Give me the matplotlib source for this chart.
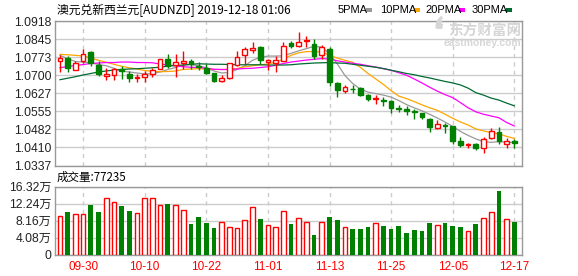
import numpy as np
import pandas as pd
import matplotlib
matplotlib.use("Agg")
import matplotlib.pyplot as plt
from matplotlib.patches import Rectangle, Arc

# daily candles, AUD/NZD, 2019-09-25 .. 2019-12-17
opens = [1.0757, 1.0771, 1.0721, 1.0757, 1.0794, 1.0741, 1.0698, 1.0702, 1.0724, 1.0705,
         1.0690, 1.0694, 1.0703, 1.0727, 1.0764, 1.0740, 1.0751, 1.0757, 1.0737, 1.0731,
         1.0707, 1.0678, 1.0688, 1.0740, 1.0780, 1.0802, 1.0812, 1.0753, 1.0751, 1.0757,
         1.0828, 1.0818, 1.0837, 1.0825, 1.0780, 1.0805, 1.0667, 1.0636, 1.0645, 1.0649,
         1.0622, 1.0606, 1.0602, 1.0595, 1.0568, 1.0564, 1.0557, 1.0548, 1.0525, 1.0487,
         1.0499, 1.0494, 1.0437, 1.0419, 1.0423, 1.0408, 1.0446, 1.0473, 1.0423, 1.0437]
highs = [1.0780, 1.0778, 1.0757, 1.0805, 1.0798, 1.0757, 1.0731, 1.0731, 1.0737, 1.0717,
         1.0703, 1.0717, 1.0731, 1.0767, 1.0787, 1.0785, 1.0798, 1.0764, 1.0753, 1.0744,
         1.0710, 1.0699, 1.0751, 1.0798, 1.0812, 1.0832, 1.0818, 1.0767, 1.0776, 1.0832,
         1.0836, 1.0873, 1.0859, 1.0845, 1.0821, 1.0812, 1.0672, 1.0659, 1.0659, 1.0652,
         1.0626, 1.0622, 1.0613, 1.0602, 1.0582, 1.0575, 1.0564, 1.0550, 1.0528, 1.0521,
         1.0507, 1.0496, 1.0453, 1.0429, 1.0429, 1.0453, 1.0487, 1.0490, 1.0447, 1.0442]
lows = [1.0713, 1.0713, 1.0719, 1.0751, 1.0737, 1.0696, 1.0680, 1.0680, 1.0683, 1.0672,
        1.0672, 1.0672, 1.0694, 1.0724, 1.0731, 1.0694, 1.0724, 1.0724, 1.0721, 1.0703,
        1.0672, 1.0672, 1.0683, 1.0737, 1.0744, 1.0789, 1.0744, 1.0721, 1.0713, 1.0756,
        1.0808, 1.0812, 1.0812, 1.0764, 1.0764, 1.0656, 1.0613, 1.0629, 1.0629, 1.0618,
        1.0595, 1.0586, 1.0578, 1.0550, 1.0554, 1.0541, 1.0525, 1.0524, 1.0473, 1.0483,
        1.0467, 1.0423, 1.0410, 1.0406, 1.0399, 1.0388, 1.0442, 1.0423, 1.0408, 1.0406]
closes = [1.0771, 1.0731, 1.0751, 1.0785, 1.0751, 1.0705, 1.0703, 1.0724, 1.0716, 1.0688,
          1.0694, 1.0703, 1.0721, 1.0764, 1.0737, 1.0753, 1.0757, 1.0744, 1.0733, 1.0707,
          1.0678, 1.0688, 1.0748, 1.0775, 1.0805, 1.0808, 1.0762, 1.0761, 1.0760, 1.0816,
          1.0818, 1.0834, 1.0843, 1.0778, 1.0812, 1.0672, 1.0640, 1.0652, 1.0643, 1.0619,
          1.0605, 1.0610, 1.0598, 1.0568, 1.0564, 1.0558, 1.0552, 1.0534, 1.0491, 1.0503,
          1.0494, 1.0436, 1.0419, 1.0423, 1.0406, 1.0442, 1.0476, 1.0437, 1.0436, 1.0429]

# moving averages as drawn on the chart
ma5 = [1.0780, 1.0766, 1.0755, 1.0753, 1.0750, 1.0743, 1.0738, 1.0728, 1.0716, 1.0713,
       1.0709, 1.0705, 1.0706, 1.0713, 1.0723, 1.0731, 1.0740, 1.0743, 1.0738, 1.0730,
       1.0717, 1.0709, 1.0711, 1.0723, 1.0738, 1.0760, 1.0772, 1.0777, 1.0777, 1.0778,
       1.0788, 1.0798, 1.0807, 1.0816, 1.0813, 1.0786, 1.0746, 1.0699, 1.0667, 1.0644,
       1.0632, 1.0626, 1.0620, 1.0612, 1.0598, 1.0582, 1.0569, 1.0557, 1.0543, 1.0528,
       1.0512, 1.0494, 1.0474, 1.0458, 1.0444, 1.0433, 1.0430, 1.0433, 1.0431, 1.0429]
ma10 = [1.0784, 1.0782, 1.0780, 1.0777, 1.0770, 1.0760, 1.0752, 1.0744, 1.0736, 1.0730,
        1.0725, 1.0719, 1.0716, 1.0714, 1.0715, 1.0717, 1.0723, 1.0725, 1.0726, 1.0725,
        1.0723, 1.0723, 1.0723, 1.0727, 1.0734, 1.0738, 1.0742, 1.0745, 1.0752, 1.0764,
        1.0780, 1.0790, 1.0795, 1.0795, 1.0794, 1.0780, 1.0769, 1.0760, 1.0752, 1.0732,
        1.0707, 1.0685, 1.0663, 1.0638, 1.0616, 1.0606, 1.0594, 1.0581, 1.0569, 1.0559,
        1.0543, 1.0527, 1.0512, 1.0500, 1.0484, 1.0476, 1.0469, 1.0464, 1.0454, 1.0446]
ma20 = [1.0730, 1.0735, 1.0739, 1.0743, 1.0747, 1.0749, 1.0751, 1.0751, 1.0753, 1.0753,
        1.0751, 1.0751, 1.0750, 1.0745, 1.0741, 1.0738, 1.0734, 1.0732, 1.0731, 1.0728,
        1.0724, 1.0723, 1.0723, 1.0725, 1.0727, 1.0728, 1.0731, 1.0734, 1.0740, 1.0747,
        1.0753, 1.0757, 1.0761, 1.0764, 1.0767, 1.0765, 1.0758, 1.0753, 1.0748, 1.0744,
        1.0738, 1.0733, 1.0726, 1.0720, 1.0710, 1.0700, 1.0685, 1.0669, 1.0652, 1.0636,
        1.0622, 1.0610, 1.0590, 1.0569, 1.0553, 1.0543, 1.0536, 1.0529, 1.0510, 1.0496]
ma30 = [1.0682, 1.0688, 1.0694, 1.0701, 1.0707, 1.0713, 1.0717, 1.0721, 1.0723, 1.0725,
        1.0726, 1.0728, 1.0730, 1.0732, 1.0737, 1.0739, 1.0741, 1.0744, 1.0746, 1.0745,
        1.0744, 1.0744, 1.0743, 1.0742, 1.0742, 1.0742, 1.0742, 1.0741, 1.0741, 1.0741,
        1.0742, 1.0745, 1.0747, 1.0749, 1.0750, 1.0751, 1.0749, 1.0748, 1.0744, 1.0740,
        1.0736, 1.0732, 1.0727, 1.0720, 1.0714, 1.0707, 1.0702, 1.0695, 1.0689, 1.0682,
        1.0675, 1.0669, 1.0661, 1.0648, 1.0630, 1.0620, 1.0608, 1.0600, 1.0588, 1.0577]

# volume in 万
volumes = [9.24, 10.27, 9.72, 9.72, 11.95, 10.27, 13.49, 12.53, 11.64, 10.44,
           9.89, 13.49, 13.49, 11.88, 12.12, 11.88, 10.68, 7.32, 8.93, 7.63,
           6.36, 7.87, 6.67, 6.29, 8.28, 11.33, 8.52, 7.08, 6.60, 10.44,
           7.32, 8.69, 7.73, 4.68, 7.73, 9.00, 8.28, 6.53, 6.12, 6.12,
           6.60, 7.49, 6.84, 6.12, 6.84, 5.23, 5.88, 5.64, 7.63, 7.08,
           7.63, 6.84, 6.60, 5.64, 7.32, 8.69, 10.20, 15.31, 8.52, 7.7235]

dates = pd.bdate_range("2019-09-25", "2019-12-17").strftime("%m-%d").tolist()
date_ticks = ["09-30", "10-10", "10-22", "11-01", "11-13", "11-25", "12-05", "12-17"]
price_ticks = [1.0337, 1.0410, 1.0482, 1.0555, 1.0627, 1.0700, 1.0773, 1.0845, 1.0918]
vol_ticks = [0, 4.08, 8.16, 12.24, 16.32]
title = "澳元兑新西兰元[AUDNZD] 2019-12-18 01:06"
ma_names = ["5PMA", "10PMA", "20PMA", "30PMA"]
ma_colors = ["#999999", "#ffa500", "#ff00ff", "#006a33"]

RED = "#ff0000"
GREEN = "#008000"
GRID = "#cccccc"
FRAME = "#999999"
CJK = ["Liberation Sans", "Noto Sans CJK SC"]

W, H = 578, 276
fig = plt.figure(figsize=(W / 100, H / 100), dpi=100)
ax = fig.add_axes([55 / W, (H - 165.5) / H, 467 / W, 144.5 / H])
axv = fig.add_axes([55 / W, (H - 254.5) / H, 467 / W, 68 / H])

x = np.arange(len(closes))
tick_pos = [dates.index(d) for d in date_ticks]
bw = 0.62

# candles
for i in x:
    o, h, l, c = opens[i], highs[i], lows[i], closes[i]
    top, bot = max(o, c), min(o, c)
    if c >= o:
        ax.vlines(i, top, h, color=RED, lw=1, zorder=3)
        ax.vlines(i, l, bot, color=RED, lw=1, zorder=3)
        ax.add_patch(Rectangle((i - bw / 2, bot), bw, max(top - bot, 0.00005),
                               facecolor="white", edgecolor=RED, lw=1, zorder=4))
    else:
        ax.vlines(i, l, h, color=GREEN, lw=1, zorder=3)
        ax.add_patch(Rectangle((i - bw / 2, bot), bw, max(top - bot, 0.00005),
                               facecolor=GREEN, edgecolor=GREEN, lw=1, zorder=4))

for ma, col in zip([ma5, ma10, ma20, ma30], ma_colors):
    ax.plot(x, ma, color=col, lw=0.9, zorder=2)

ax.set_xlim(-0.65, 60.0)
ax.set_ylim(price_ticks[0], price_ticks[-1])
ax.set_yticks(price_ticks)
ax.set_yticklabels([f"{t:.4f}" for t in price_ticks], fontsize=8.7,
                   family="Liberation Sans", color="#222222")
ax.set_xticks(tick_pos)
ax.set_xticklabels([])
ax.tick_params(length=0, pad=2.5)
ax.yaxis.grid(True, color=GRID, lw=1, ls="-", zorder=0)
ax.xaxis.grid(True, color=GRID, lw=1, ls=(0, (3, 3)), zorder=0)
ax.set_axisbelow(True)
for s in ax.spines.values():
    s.set_color(FRAME)
    s.set_linewidth(1)

# volume
up = [c >= o for o, c in zip(opens, closes)]
vx_up = [i for i in x if up[i]]
vx_dn = [i for i in x if not up[i]]
axv.bar(vx_up, [volumes[i] for i in vx_up], width=bw, facecolor="white",
        edgecolor=RED, lw=1, zorder=3)
axv.bar(vx_dn, [volumes[i] for i in vx_dn], width=bw, color=GREEN, lw=0, zorder=3)
axv.set_xlim(-0.65, 60.0)
axv.set_ylim(0, vol_ticks[-1])
axv.set_yticks(vol_ticks)
axv.set_yticklabels(["0" if t == 0 else f"{t:.2f}万" for t in vol_ticks],
                    fontsize=8.7, family=CJK, color="#222222")
axv.set_xticks(tick_pos)
axv.set_xticklabels(date_ticks, fontsize=8.5, family="Liberation Sans", color=RED)
axv.tick_params(axis="y", length=0, pad=2.5)
axv.tick_params(axis="x", length=0, pad=5)
axv.yaxis.grid(True, color=GRID, lw=1, ls="-", zorder=0)
axv.xaxis.grid(True, color=GRID, lw=1, ls=(0, (3, 3)), zorder=0)
axv.set_axisbelow(True)
for s in axv.spines.values():
    s.set_color(FRAME)
    s.set_linewidth(1)

# header texts
fig.text(57 / W, (H - 10) / H, title, fontsize=8.5, family=["Noto Sans CJK SC"],
         va="center", ha="left", color="#000000")
leg_x = [338, 380, 425, 472]
for name, col, lx in zip(ma_names, ma_colors, leg_x):
    fig.text(lx / W, (H - 10) / H, name, fontsize=8, family="Liberation Sans",
             va="center", ha="left", color="#000000")
    fig.patches.append(Rectangle(((lx + len(name) * 6 + 4) / W, (H - 12) / H), 6 / W, 4 / H,
                                 transform=fig.transFigure, facecolor=col, edgecolor="none"))

fig.text(57 / W, (H - 177) / H, f"成交量:{int(round(volumes[-1] * 1e4))}", fontsize=8.3,
         family=["Noto Sans CJK SC"], va="center", ha="left", color="#000000")

# watermark: swirl logo + name
for k, (r, a1, a2) in enumerate([(9, 100, 200), (7, 110, 210), (5, 120, 220)]):
    fig.patches.append(Arc((446 / W, (H - 27) / H), 2 * r / W, 2.4 * r / H,
                           theta1=a1, theta2=a2, transform=fig.transFigure,
                           color="#d6d6d6", lw=2.2))
fig.text(521 / W, (H - 31) / H, "东方财富网", fontsize=10.5, family=["Noto Sans CJK SC"],
         weight="bold", color="#d6d6d6", ha="right", va="center")
fig.text(521 / W, (H - 42.5) / H, "eastmoney.com", fontsize=7.5, family="Liberation Sans",
         weight="bold", color="#d6d6d6", ha="right", va="center")

fig.savefig("out.png", dpi=100, facecolor="white")
